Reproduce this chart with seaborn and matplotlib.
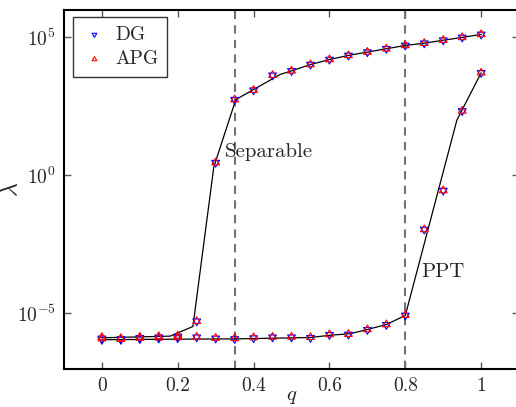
import numpy as np
import pandas as pd
import matplotlib
matplotlib.use("Agg")
import matplotlib.pyplot as plt
import matplotlib.ticker as mticker
from matplotlib.path import Path
from matplotlib.markers import MarkerStyle
import seaborn as sns

# marker data (log10 of lambda)
q = [0, 0.05, 0.1, 0.15, 0.2, 0.25, 0.3, 0.35, 0.4, 0.45, 0.5,
     0.55, 0.6, 0.65, 0.7, 0.75, 0.8, 0.85, 0.9, 0.95, 1.0]
dg_sep = [-5.90, -5.92, -5.88, -5.86, -5.83, -5.28, 0.46, 2.74, 3.08, 3.62, 3.78,
          4.01, 4.19, 4.34, 4.46, 4.58, 4.70, 4.78, 4.89, 4.99, 5.10]
dg_ppt = [-5.95, -5.95, -5.92, -5.90, -5.89, -5.86, -5.90, -5.92, -5.89, -5.86, -5.86,
          -5.88, -5.77, -5.76, -5.59, -5.41, -5.07, -1.96, -0.55, 2.33, 3.71]
apg_sep = [-5.86, -5.90, -5.85, -5.83, -5.81, -5.28, 0.46, 2.74, 3.08, 3.62, 3.78,
           4.01, 4.19, 4.34, 4.46, 4.58, 4.70, 4.78, 4.89, 4.99, 5.10]
apg_ppt = [-5.91, -5.93, -5.89, -5.88, -5.87, -5.85, -5.89, -5.90, -5.87, -5.85, -5.85,
           -5.86, -5.76, -5.75, -5.58, -5.40, -5.06, -1.96, -0.55, 2.33, 3.71]

# the solid reference curves
line_sep_q = [0, 0.18, 0.24, 0.295, 0.353, 0.47, 0.5, 0.55, 0.6, 0.65, 0.7,
              0.75, 0.8, 0.85, 0.9, 0.95, 1.0]
line_sep = [-5.88, -5.82, -5.47, 0.30, 2.74, 3.65, 3.78, 4.01, 4.19, 4.34, 4.46,
            4.58, 4.70, 4.78, 4.89, 4.99, 5.10]
line_ppt_q = [0, 0.2, 0.35, 0.55, 0.6, 0.655, 0.7, 0.75, 0.8, 0.936, 1.0]
line_ppt = [-5.95, -5.93, -5.92, -5.87, -5.79, -5.73, -5.58, -5.40, -5.07, 2.0, 3.71]

boundaries = [0.35, 0.8]
xticks = [0, 0.2, 0.4, 0.6, 0.8, 1.0]
xtick_labels = ["0", "0.2", "0.4", "0.6", "0.8", "1"]
yticks = [1e-5, 1e0, 1e5]

# triangles centred on their centroid, so the two overlap as a star
tri_up = MarkerStyle(Path([(0, 1), (-0.866, -0.5), (0.866, -0.5), (0, 1)], closed=True))
tri_down = MarkerStyle(Path([(0, -1), (-0.866, 0.5), (0.866, 0.5), (0, -1)], closed=True))

sns.set_style("ticks")
plt.rcParams["font.family"] = ["cmr10", "DejaVu Serif"]
plt.rcParams["mathtext.fontset"] = "cm"
plt.rcParams["axes.unicode_minus"] = False
plt.rcParams["axes.formatter.use_mathtext"] = True

fig = plt.figure(figsize=(5.16, 4.07), dpi=100)
ax = fig.add_axes([0.124, 0.094, 0.882, 0.8826])

for xb in boundaries:
    ax.axvline(xb, color="0.45", lw=1.5, ls=(0, (4, 3)), zorder=1)

sns.lineplot(x=line_sep_q, y=10.0 ** np.array(line_sep), color="k", lw=0.9,
             ax=ax, zorder=2, estimator=None, sort=False)
sns.lineplot(x=line_ppt_q, y=10.0 ** np.array(line_ppt), color="k", lw=0.9,
             ax=ax, zorder=2, estimator=None, sort=False)

dg = pd.DataFrame({"q": q * 2, "lam": 10.0 ** np.array(dg_sep + dg_ppt)})
apg = pd.DataFrame({"q": q * 2, "lam": 10.0 ** np.array(apg_sep + apg_ppt)})
sns.scatterplot(data=dg, x="q", y="lam", marker=tri_down, s=42,
                edgecolor="blue", linewidth=0.8, ax=ax, zorder=3, label="DG")
sns.scatterplot(data=apg, x="q", y="lam", marker=tri_up, s=42,
                edgecolor="red", linewidth=0.8, ax=ax, zorder=4, label="APG")
# hollow markers
for coll in ax.collections:
    coll.set_facecolor("none")

ax.set_yscale("log")
ax.set_xlim(-0.1, 1.1)
ax.set_ylim(1e-7, 1e6)
ax.xaxis.set_major_locator(mticker.FixedLocator(xticks))
ax.set_xticklabels(xtick_labels)
ax.yaxis.set_major_locator(mticker.FixedLocator(yticks))
ax.yaxis.set_minor_locator(mticker.NullLocator())
ax.tick_params(direction="in", top=True, right=True, length=5, width=1,
               color="0.35", labelsize=14, pad=6)
for sp in ax.spines.values():
    sp.set_linewidth(1.5)
    sp.set_color("k")

ax.set_xlabel(r"$q$", fontsize=15, labelpad=-5)
ax.set_ylabel(r"$\lambda$", fontsize=17, labelpad=-4)

ax.text(0.325, 10 ** 0.84, "Separable", fontsize=15, ha="left", va="center")
ax.text(0.843, 10 ** -3.5, "PPT", fontsize=15, ha="left", va="center")

leg = ax.legend(loc="upper left", fontsize=14, frameon=True, fancybox=False,
                edgecolor="k", markerscale=0.6, handletextpad=0.4,
                handlelength=1.3, borderpad=0.45, labelspacing=0.35,
                borderaxespad=0, bbox_to_anchor=(0.02, 0.979))
leg.get_frame().set_linewidth(1.0)
for h in leg.legend_handles:
    h.set_facecolor("none")

fig.savefig("out.png", dpi=100)
